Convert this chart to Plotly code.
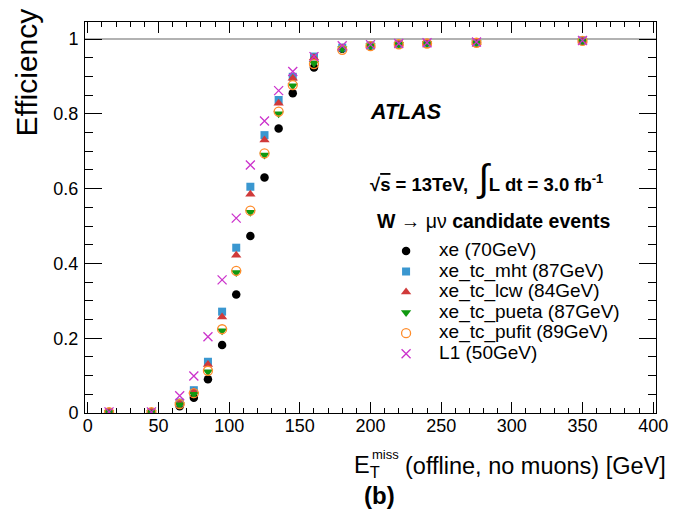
import plotly.graph_objects as go

# MET bin centres [GeV]
met = [15, 45, 65, 75, 85, 95, 105, 115, 125, 135, 145, 160, 180, 200, 220, 240, 275, 350]

eff_xe = [0.002, 0.002, 0.018, 0.041, 0.090, 0.182, 0.317, 0.473, 0.630, 0.761, 0.855,
          0.924, 0.974, 0.982, 0.986, 0.988, 0.990, 0.995]
eff_mht = [0.002, 0.002, 0.028, 0.061, 0.137, 0.271, 0.442, 0.605, 0.743, 0.837, 0.899,
           0.953, 0.977, 0.983, 0.987, 0.989, 0.991, 0.996]
eff_lcw = [0.002, 0.002, 0.027, 0.057, 0.130, 0.257, 0.422, 0.585, 0.730, 0.828, 0.895,
           0.950, 0.976, 0.983, 0.987, 0.989, 0.991, 0.995]
eff_pueta = [0.002, 0.002, 0.022, 0.050, 0.110, 0.220, 0.376, 0.537, 0.690, 0.800, 0.875,
             0.935, 0.974, 0.982, 0.986, 0.988, 0.990, 0.995]
eff_pufit = [0.002, 0.002, 0.024, 0.053, 0.113, 0.224, 0.380, 0.541, 0.694, 0.806, 0.877,
             0.933, 0.971, 0.981, 0.986, 0.988, 0.990, 0.995]
eff_l1 = [0.003, 0.003, 0.046, 0.099, 0.204, 0.356, 0.521, 0.663, 0.781, 0.862, 0.913,
          0.953, 0.982, 0.985, 0.988, 0.990, 0.992, 0.996]

FONT = "Liberation Sans, Arial, sans-serif"

series = [
    ("xe (70GeV)", eff_xe, dict(symbol="circle", size=8.5, color="black")),
    ("xe_tc_mht (87GeV)", eff_mht, dict(symbol="square", size=8, color="#3a97d0")),
    ("xe_tc_lcw (84GeV)", eff_lcw, dict(symbol="triangle-up", size=9, color="#d03a3a")),
    ("xe_tc_pueta (87GeV)", eff_pueta, dict(symbol="triangle-down", size=9, color="#119911")),
    ("xe_tc_pufit (89GeV)", eff_pufit, dict(symbol="circle-open", size=9, color="#ff8c2a",
                                             line=dict(width=1.3, color="#ff8c2a"))),
    ("L1 (50GeV)", eff_l1, dict(symbol="x-thin-open", size=9, color="#cc33cc",
                                line=dict(width=1.3, color="#cc33cc"))),
]

fig = go.Figure()
for name, eff, mk in series:
    # legend rows are spaced by the (small) legend font; the label itself is larger
    fig.add_trace(go.Scatter(x=met, y=eff, mode="markers", marker=mk,
                             name=f"<span style='font-size:19px'>{name}</span>"))

axis_common = dict(showline=True, linecolor="black", linewidth=1, mirror="allticks",
                   ticks="inside", tickcolor="black", showgrid=False, zeroline=False,
                   tickfont=dict(family=FONT, size=18, color="black"))

fig.update_xaxes(range=[-2, 402], dtick=50, tick0=0, ticklen=11, ticklabelstandoff=-4,
                 minor=dict(ticks="inside", dtick=10, ticklen=5, tickcolor="black"),
                 **axis_common)
fig.update_yaxes(range=[0, 1.0455], dtick=0.2, tick0=0, ticklen=17, ticklabelstandoff=2,
                 minor=dict(ticks="inside", dtick=0.05, ticklen=8, tickcolor="black"),
                 **axis_common)

fig.add_shape(type="line", xref="paper", yref="y", x0=0, x1=1, y0=1, y1=1,
              line=dict(color="#999999", width=1.5), layer="below")

ann = [
    dict(text="Efficiency", textangle=-90, x=-0.103, y=1.04, xanchor="center",
         yanchor="top", font=dict(size=30)),
    dict(text="(offline, no muons) [GeV]", x=1.021, y=-0.136, xanchor="right",
         yanchor="middle", font=dict(size=23.5)),
    dict(text="E<sub>T</sub>", x=0.468, y=-0.138, xanchor="left",
         yanchor="middle", font=dict(size=23.5)),
    dict(text="miss", x=0.499, y=-0.106, xanchor="left",
         yanchor="middle", font=dict(size=13)),
    dict(text="<b>(b)</b>", x=0.516, y=-0.21, xanchor="center",
         yanchor="middle", font=dict(size=24)),
    dict(text="<b><i>ATLAS</i></b>", x=0.495, y=0.77, xanchor="left",
         yanchor="middle", font=dict(size=21.5)),
    dict(text="<b>√<span style='text-decoration:overline'>s</span> = 13TeV,  "
              "<span style='font-size:38px;font-weight:normal'>∫</span>"
              "L dt = 3.0 fb<sup>-1</sup></b>",
         x=0.495, y=0.6, xanchor="left", yanchor="middle", font=dict(size=18.5)),
    dict(text="<b>W</b> → μν <b>candidate events</b>", x=0.508, y=0.49,
         xanchor="left", yanchor="middle", font=dict(size=19.5)),
]
for a in ann:
    a.setdefault("xref", "paper")
    a.setdefault("yref", "paper")
    a["showarrow"] = False
    a["font"] = dict(family=FONT, color="black", **a["font"])
    fig.add_annotation(**a)

# page body has an 8px margin, so the figure is 8px smaller than the window
fig.update_layout(
    width=673, height=504,
    margin=dict(l=77, r=25, t=14, b=99),
    paper_bgcolor="white", plot_bgcolor="white",
    font=dict(family=FONT, color="black"),
    legend=dict(x=0.5045, y=0.4535, xanchor="left", yanchor="top",
                bgcolor="rgba(0,0,0,0)", font=dict(family=FONT, size=13.5),
                itemwidth=56, tracegroupgap=0),
)

fig.write_html("out.html")
